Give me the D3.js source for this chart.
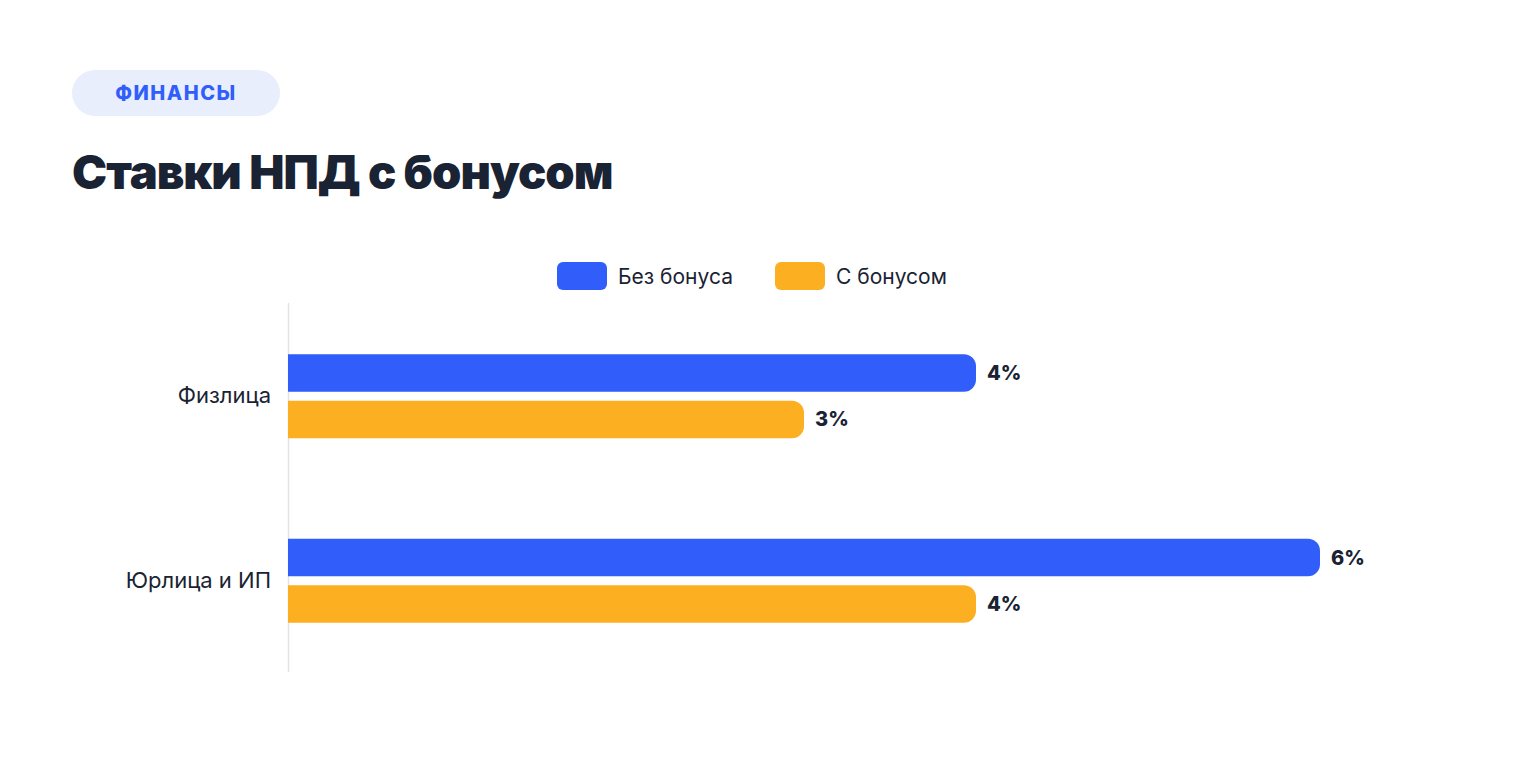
<!DOCTYPE html>
<html>
<head>
<meta charset="utf-8">
<script src="https://cdn.jsdelivr.net/npm/d3@7/dist/d3.min.js"></script>
<style>
  body { margin: 0; background: #fff; }
  text { font-family: Inter, "Noto Sans", sans-serif; }
</style>
</head>
<body>
<svg id="chart" width="1520" height="760"></svg>
<script>
const categories = ['Физлица', 'Юрлица и ИП'];
const seriesNames = ['Без бонуса', 'С бонусом'];
const withoutBonus = [4, 6];
const withBonus = [3, 4];
const colors = ['#315efb', '#fdaf22'];

const svg = d3.select('#chart');
const dark = '#1a2333';

// badge + title
svg.append('rect').attr('x', 72).attr('y', 70).attr('width', 208).attr('height', 46)
    .attr('rx', 23).attr('fill', '#e9eefc');
svg.append('text').attr('x', 176).attr('y', 100).attr('text-anchor', 'middle')
    .attr('font-size', 20).attr('font-weight', 800).attr('letter-spacing', 1.5)
    .attr('fill', '#315efb').text('ФИНАНСЫ');
svg.append('text').attr('x', 72).attr('y', 189)
    .attr('font-size', 47).attr('font-weight', 900).attr('letter-spacing', -1)
    .attr('fill', dark).text('Ставки НПД с бонусом');

// legend
const legend = svg.append('g');
const legX = [557, 775];
seriesNames.forEach((name, i) => {
    legend.append('rect').attr('x', legX[i]).attr('y', 262).attr('width', 50).attr('height', 28)
        .attr('rx', 6).attr('fill', colors[i]);
    legend.append('text').attr('x', legX[i] + 61).attr('y', 284)
        .attr('font-size', 21).attr('fill', dark).text(name);
});

// scales
const x = d3.scaleLinear().domain([0, 6]).range([288, 1320]);
const y = d3.scaleBand().domain(categories).range([303, 672]);
const sub = d3.scaleBand().domain([0, 1]).range([-41, 43]).paddingInner(0.19);

svg.append('line').attr('x1', 288.5).attr('x2', 288.5).attr('y1', 303).attr('y2', 672)
    .attr('stroke', '#dfe3ea').attr('stroke-width', 1.5);

svg.selectAll('.cat').data(categories).join('text')
    .attr('x', 271).attr('y', d => y(d) + y.bandwidth() / 2 + 8)
    .attr('text-anchor', 'end').attr('font-size', 22).attr('fill', dark).text(d => d);

function barPath(x0, x1, y0, h, r) {
    return `M${x0},${y0}H${x1 - r}A${r},${r} 0 0 1 ${x1},${y0 + r}V${y0 + h - r}` +
        `A${r},${r} 0 0 1 ${x1 - r},${y0 + h}H${x0}Z`;
}

const rows = [];
categories.forEach((c, ci) => {
    [withoutBonus, withBonus].forEach((s, si) => rows.push({ c, si, v: s[ci] }));
});

const g = svg.append('g');
rows.forEach(d => {
    const y0 = y(d.c) + y.bandwidth() / 2 + sub(d.si);
    const h = sub.bandwidth();
    g.append('path').attr('d', barPath(x(0), x(d.v), y0, h, 12)).attr('fill', colors[d.si]);
    g.append('text').attr('x', x(d.v) + 11).attr('y', y0 + h / 2 + 7)
        .attr('font-size', 20).attr('font-weight', 800).attr('fill', dark).text(d.v + '%');
});
</script>
</body>
</html>
